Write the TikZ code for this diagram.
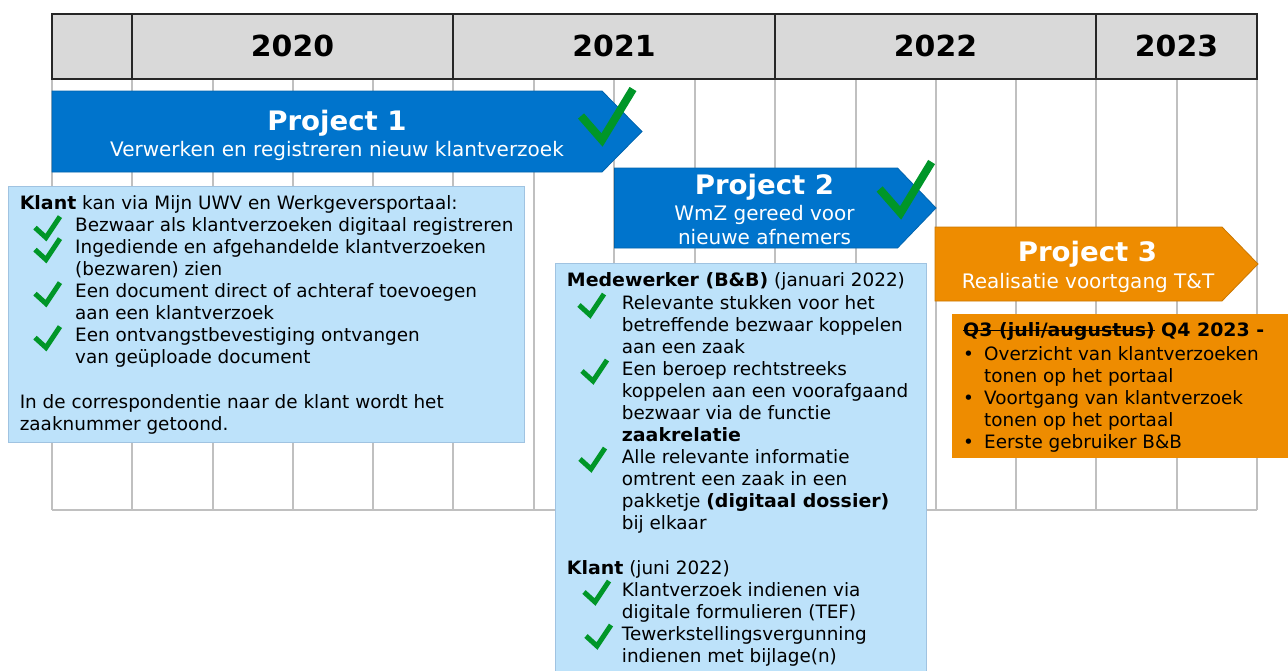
\documentclass[tikz,border=0pt]{standalone}
\usepackage{fontspec}
\setmainfont{DejaVu Sans}[BoldFeatures={FakeStretch=1.03}]
\usetikzlibrary{positioning}

\definecolor{hdrgray}{RGB}{217,217,217}
\definecolor{gridgray}{RGB}{192,192,192}
\definecolor{projblue}{RGB}{0,116,204}
\definecolor{projorange}{RGB}{238,140,0}
\definecolor{noteblue}{RGB}{189,226,250}
\definecolor{noteedge}{RGB}{160,195,225}
\definecolor{tickgreen}{RGB}{0,150,40}

\newcommand{\txtfont}{\fontsize{18.4}{22}\selectfont}
\newcommand{\bul}{\makebox[21pt][l]{\textbullet}}
\newcommand{\bulskip}{\hspace*{21pt}}

\tikzset{
	tick/.pic={\draw[tickgreen, line width=5pt] (-11,-10) -- (0,0) -- (14,-21);},
	bigtick/.pic={\draw[tickgreen, line width=8pt] (-21,-24) -- (0,0) -- (31,-51);},
}

\begin{document}
\begin{tikzpicture}[x=1pt, y=-1pt,
		every node/.style={inner sep=0pt, align=left, font=\txtfont},
		gridline/.style={draw=gridgray, line width=1.5pt},
		hdrline/.style={draw=black!85, line width=1.8pt},
		yearlabel/.style={font=\fontsize{29}{32}\selectfont\bfseries, anchor=base},
		projtitle/.style={font=\fontsize{26.8}{30}\selectfont\bfseries, text=white, anchor=base},
		projsub/.style={font=\fontsize{20}{23.6}\selectfont, text=white, align=center, anchor=base},
		notebox/.style={fill=noteblue, draw=noteedge, line width=1pt},
		txt/.style={anchor=north west},
		]

		\useasboundingbox (0,0) rectangle (1288,670);

		% timeline grid
		\foreach \x in {52,132,213,293,373,453,534,614,695,775,856,936,1016,1096,1177,1257}
			\draw[gridline] (\x,79) -- (\x,510);
		\draw[gridline] (52,510) -- (1257,510);

		% year header
		\draw[hdrline, fill=hdrgray] (52,14) rectangle (1257,79);
		\foreach \x in {132,453,775,1096}
			\draw[hdrline] (\x,14) -- (\x,79);
		\node (y2020) [yearlabel] at (292.5,56.7) {2020};
		\node (y2021) [yearlabel] at (614,56.7) {2021};
		\node (y2022) [yearlabel] at (935.5,56.7) {2022};
		\node (y2023) [yearlabel] at (1176.5,56.7) {2023};

		% projects
		\filldraw[fill=projblue, draw=projblue!85!black, line width=0.8pt]
			(52,91) -- (602,91) -- (642,131.5) -- (602,172) -- (52,172) -- cycle;
		\node (p1title) [projtitle] at (337,130) {Project 1};
		\node (p1sub) [projsub] at (337,156) {Verwerken en registreren nieuw klantverzoek};
		\pic at (602,140) {bigtick};

		\filldraw[fill=projblue, draw=projblue!85!black, line width=0.8pt]
			(614.5,168) -- (897.5,168) -- (936,208) -- (897.5,248) -- (614.5,248) -- cycle;
		\node (p2title) [projtitle] at (764.5,194.3) {Project 2};
		\node (p2sub) [projsub, anchor=north] at (764.5,204.2) {\strut WmZ gereed voor\\nieuwe afnemers};
		\pic at (900.6,213) {bigtick};

		\filldraw[fill=projorange, draw=projorange!85!black, line width=0.8pt]
			(935,227) -- (1222,227) -- (1258,264) -- (1222,301) -- (935,301) -- cycle;
		\node (p3title) [projtitle] at (1087.5,261.7) {Project 3};
		\node (p3sub) [projsub] at (1088,288.3) {Realisatie voortgang T\&T};

		% Klant box
		\draw[notebox] (8,186) rectangle (524,442);
		\node (klanthead) [txt] at (19.6,193.8) {\strut\textbf{Klant} kan via Mijn UWV en Werkgeversportaal:};
		\node (klantlist) [txt] at (75,216.2) {\strut Bezwaar als klantverzoeken digitaal registreren\\
			Ingediende en afgehandelde klantverzoeken\\
			(bezwaren) zien\\
			Een document direct of achteraf toevoegen\\
			aan een klantverzoek\\
			Een ontvangstbevestiging ontvangen\\
			van geüploade document};
		\node (klantfoot) [txt] at (19.6,392.8) {\strut In de correspondentie naar de klant wordt het\\zaaknummer getoond.};
		\foreach \y in {237.6,259.6,303.6,347.6}
			\pic at (46,\y) {tick};

		% Medewerker box
		\draw[notebox] (555,263) rectangle (926,700);
		\node (mwhead) [txt] at (566.7,270.6) {\strut\textbf{Medewerker (B\&B)} (januari 2022)};
		\node (mwlist) [txt] at (621.7,293.6) {\strut Relevante stukken voor het\\
			betreffende bezwaar koppelen\\
			aan een zaak\\
			Een beroep rechtstreeks\\
			koppelen aan een voorafgaand\\
			bezwaar via de functie\\
			\textbf{zaakrelatie}\\
			Alle relevante informatie\\
			omtrent een zaak in een\\
			pakketje \textbf{(digitaal dossier)}\\
			bij elkaar};
		\node (kl2head) [txt] at (566.7,558.6) {\strut\textbf{Klant} (juni 2022)};
		\node (kl2list) [txt] at (621.7,580.6) {\strut Klantverzoek indienen via\\
			digitale formulieren (TEF)\\
			Tewerkstellingsvergunning\\
			indienen met bijlage(n)};
		\pic at (590,315) {tick};
		\pic at (593,381) {tick};
		\pic at (591,469) {tick};
		\pic at (595,602) {tick};
		\pic at (597,646) {tick};

		% planning box
		\fill[projorange] (952,314) rectangle (1288,458);
		\node (q4old) [txt] at (963,321.3) {\strut\textbf{Q3 (juli/augustus)}};
		\node (q4new) [right=6pt of q4old] {\strut\textbf{Q4 2023 -}};
		\draw[line width=1.8pt] ([yshift=6.5pt]q4old.base west) -- ([yshift=6.5pt]q4old.base east);
		\node (q4list) [txt] at (963,344.6) {\strut\bul Overzicht van klantverzoeken\\
			\bulskip tonen op het portaal\\
			\bul Voortgang van klantverzoek\\
			\bulskip tonen op het portaal\\
			\bul Eerste gebruiker B\&B};

	\end{tikzpicture}
\end{document}
